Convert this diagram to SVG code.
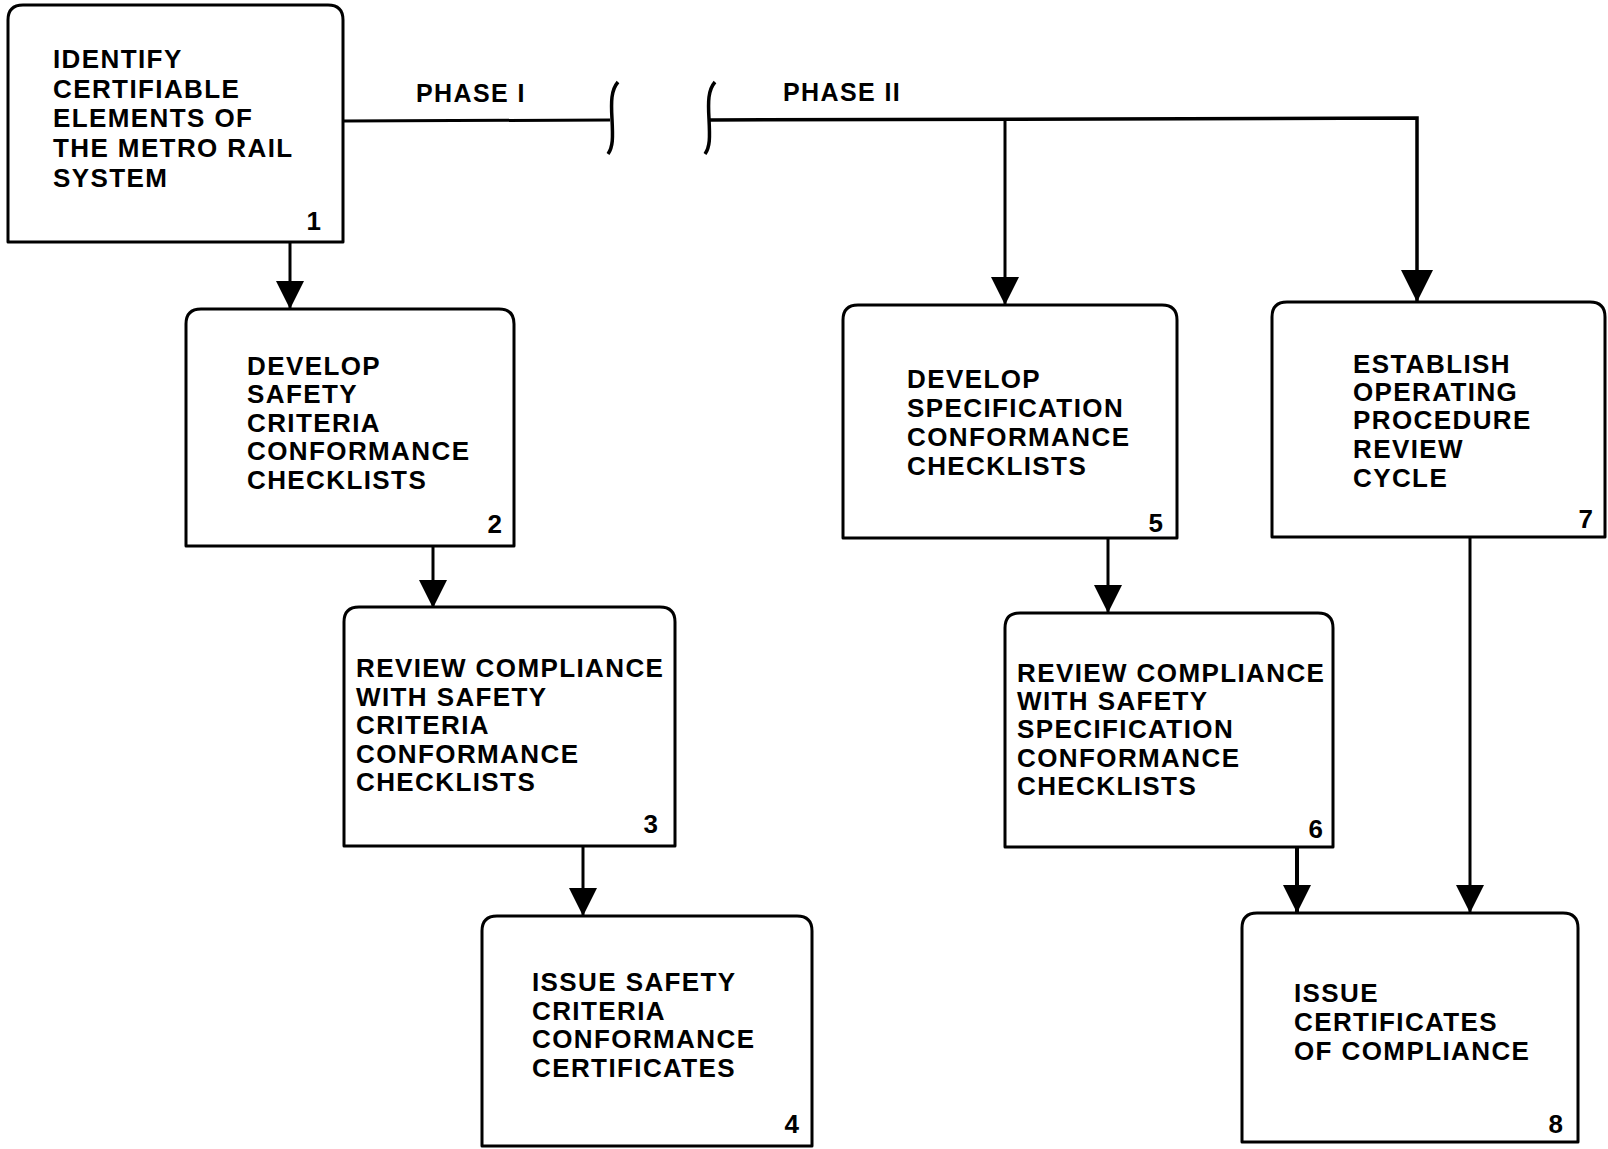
<svg xmlns="http://www.w3.org/2000/svg" width="1608" height="1149" viewBox="0 0 1608 1149">
<style>
.box{fill:#fff;stroke:#000;stroke-width:3;stroke-linejoin:round}
.t{font-family:"Liberation Sans",Arial,sans-serif;font-weight:bold;font-size:26px;letter-spacing:1.4px;fill:#000}
.n{font-family:"Liberation Sans",Arial,sans-serif;font-weight:bold;font-size:26px;fill:#000;text-anchor:end}
.ph{font-family:"Liberation Sans",Arial,sans-serif;font-weight:bold;font-size:25px;letter-spacing:1.4px;fill:#000}
.c{fill:none;stroke:#000;stroke-width:3}
</style>
<defs>
<marker id="ah" viewBox="0 0 28 28" refX="28" refY="14" markerWidth="28" markerHeight="28" markerUnits="userSpaceOnUse" orient="auto">
<path d="M0,0 L28,14 L0,28 z" fill="#000"/>
</marker>
<marker id="ahb" viewBox="0 0 32 32" refX="32" refY="16" markerWidth="32" markerHeight="32" markerUnits="userSpaceOnUse" orient="auto">
<path d="M0,0 L32,16 L0,32 z" fill="#000"/>
</marker>
</defs>
<rect width="1608" height="1149" fill="#fff"/>
<g id="connectors">
<path class="c" d="M290,242 L290,309" marker-end="url(#ah)"/>
<path class="c" d="M343,121 L610,120"/>
<path class="c" style="stroke-width:3.5" d="M618,82 C611,90 611,102 612,119 C613,138 613,147 608,154"/>
<path class="c" style="stroke-width:3.5" d="M715,82 C708,90 708,102 709,119 C710,138 710,147 705,154"/>
<path class="c" d="M710,120 L1417,118 L1417,302" style="stroke-width:3.5" marker-end="url(#ahb)"/>
<path class="c" d="M1005,119 L1005,305" marker-end="url(#ah)"/>
<path class="c" d="M433,546 L433,608" marker-end="url(#ah)"/>
<path class="c" d="M583,846 L583,916" marker-end="url(#ah)"/>
<path class="c" d="M1108,538 L1108,613" marker-end="url(#ah)"/>
<path class="c" style="stroke-width:4" d="M1297,847 L1297,913" marker-end="url(#ah)"/>
<path class="c" d="M1470,537 L1470,913" marker-end="url(#ah)"/>
<text class="ph" x="416" y="102">PHASE I</text>
<text class="ph" x="783" y="101">PHASE II</text>
</g>
<g id="node1">
<path class="box" d="M8,242 L8,20 Q8,5 23,5 L328,5 Q343,5 343,20 L343,242 Z"/>
<text class="t" x="53" y="68">IDENTIFY</text>
<text class="t" x="53" y="98">CERTIFIABLE</text>
<text class="t" x="53" y="127">ELEMENTS OF</text>
<text class="t" x="53" y="157">THE METRO RAIL</text>
<text class="t" x="53" y="187">SYSTEM</text>
<text class="n" x="321" y="230">1</text>
</g>
<g id="node2">
<path class="box" d="M186,546 L186,324 Q186,309 201,309 L499,309 Q514,309 514,324 L514,546 Z"/>
<text class="t" x="247" y="375">DEVELOP</text>
<text class="t" x="247" y="403">SAFETY</text>
<text class="t" x="247" y="432">CRITERIA</text>
<text class="t" x="247" y="460">CONFORMANCE</text>
<text class="t" x="247" y="489">CHECKLISTS</text>
<text class="n" x="502" y="533">2</text>
</g>
<g id="node3">
<path class="box" d="M344,846 L344,622 Q344,607 359,607 L660,607 Q675,607 675,622 L675,846 Z"/>
<text class="t" x="356" y="677">REVIEW COMPLIANCE</text>
<text class="t" x="356" y="706">WITH SAFETY</text>
<text class="t" x="356" y="734">CRITERIA</text>
<text class="t" x="356" y="763">CONFORMANCE</text>
<text class="t" x="356" y="791">CHECKLISTS</text>
<text class="n" x="658" y="833">3</text>
</g>
<g id="node4">
<path class="box" d="M482,1146 L482,931 Q482,916 497,916 L797,916 Q812,916 812,931 L812,1146 Z"/>
<text class="t" x="532" y="991">ISSUE SAFETY</text>
<text class="t" x="532" y="1020">CRITERIA</text>
<text class="t" x="532" y="1048">CONFORMANCE</text>
<text class="t" x="532" y="1077">CERTIFICATES</text>
<text class="n" x="799" y="1133">4</text>
</g>
<g id="node5">
<path class="box" d="M843,538 L843,320 Q843,305 858,305 L1162,305 Q1177,305 1177,320 L1177,538 Z"/>
<text class="t" x="907" y="388">DEVELOP</text>
<text class="t" x="907" y="417">SPECIFICATION</text>
<text class="t" x="907" y="446">CONFORMANCE</text>
<text class="t" x="907" y="475">CHECKLISTS</text>
<text class="n" x="1163" y="532">5</text>
</g>
<g id="node6">
<path class="box" d="M1005,847 L1005,628 Q1005,613 1020,613 L1318,613 Q1333,613 1333,628 L1333,847 Z"/>
<text class="t" x="1017" y="682">REVIEW COMPLIANCE</text>
<text class="t" x="1017" y="710">WITH SAFETY</text>
<text class="t" x="1017" y="738">SPECIFICATION</text>
<text class="t" x="1017" y="767">CONFORMANCE</text>
<text class="t" x="1017" y="795">CHECKLISTS</text>
<text class="n" x="1323" y="838">6</text>
</g>
<g id="node7">
<path class="box" d="M1272,537 L1272,317 Q1272,302 1287,302 L1590,302 Q1605,302 1605,317 L1605,537 Z"/>
<text class="t" x="1353" y="373">ESTABLISH</text>
<text class="t" x="1353" y="401">OPERATING</text>
<text class="t" x="1353" y="429">PROCEDURE</text>
<text class="t" x="1353" y="458">REVIEW</text>
<text class="t" x="1353" y="487">CYCLE</text>
<text class="n" x="1593" y="528">7</text>
</g>
<g id="node8">
<path class="box" d="M1242,1142 L1242,928 Q1242,913 1257,913 L1563,913 Q1578,913 1578,928 L1578,1142 Z"/>
<text class="t" x="1294" y="1002">ISSUE</text>
<text class="t" x="1294" y="1031">CERTIFICATES</text>
<text class="t" x="1294" y="1060">OF COMPLIANCE</text>
<text class="n" x="1563" y="1133">8</text>
</g>
</svg>
